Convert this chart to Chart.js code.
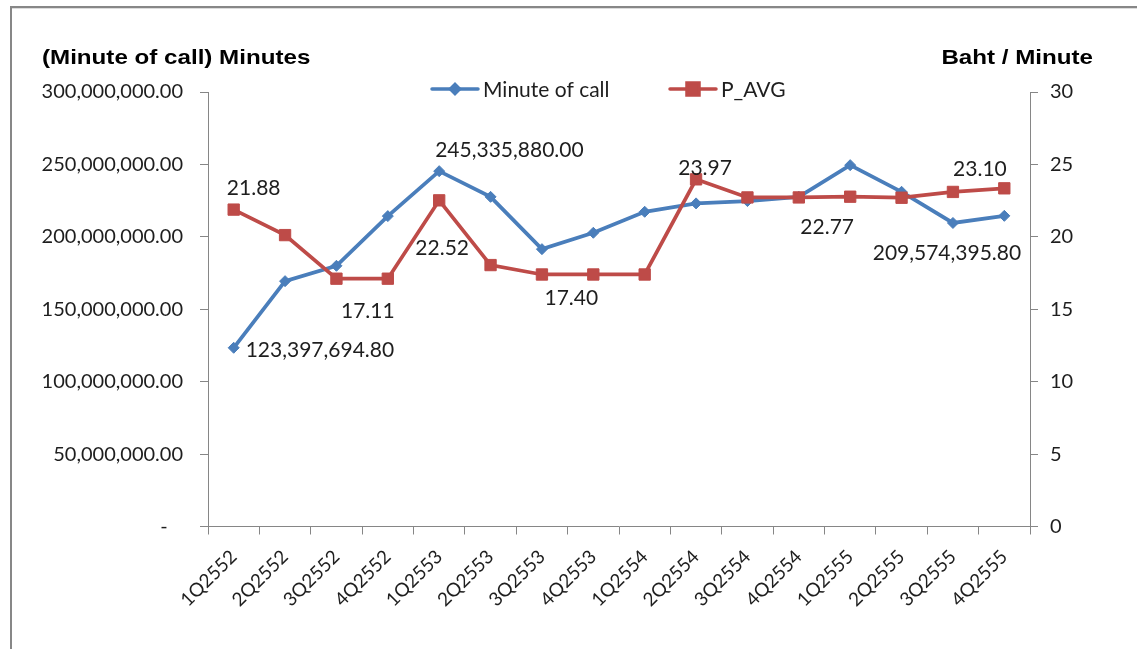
<!DOCTYPE html>
<html>
<head>
<meta charset="utf-8">
<script src="https://cdn.jsdelivr.net/npm/chart.js@4.4.1/dist/chart.umd.min.js"></script>
<style>
  html, body { margin: 0; padding: 0; background: #fff; overflow: hidden; }
  #wrap { position: relative; width: 1137px; height: 649px; }
  canvas { display: block; }
</style>
</head>
<body>
<div id="wrap"><canvas id="chart" width="1137" height="649"></canvas></div>
<script>
// Quarterly call minutes and average price per minute
const quarters = ['1Q2552', '2Q2552', '3Q2552', '4Q2552',
                  '1Q2553', '2Q2553', '3Q2553', '4Q2553',
                  '1Q2554', '2Q2554', '3Q2554', '4Q2554',
                  '1Q2555', '2Q2555', '3Q2555', '4Q2555'];

const minuteOfCall = [123397694.80, 169400000, 180000000, 214300000,
                      245335880.00, 227600000, 191500000, 202800000,
                      217300000, 223100000, 224700000, 227600000,
                      249500000, 231100000, 209574395.80, 214500000];

const pAvg = [21.88, 20.12, 17.11, 17.11,
              22.52, 18.05, 17.40, 17.40,
              17.40, 23.97, 22.72, 22.72,
              22.77, 22.70, 23.10, 23.35];

const minutesTicks = [0, 50000000, 100000000, 150000000, 200000000, 250000000, 300000000];
const bahtTicks = [0, 5, 10, 15, 20, 25, 30];

const leftTitle = '(Minute of call) Minutes';
const rightTitle = 'Baht / Minute';

// Which points carry a value label, and where the text sits relative to the point
const labelPlacement = [
  { ds: 0, i: 0,  dx: 12,   dy: 9,    align: 'left' },
  { ds: 0, i: 4,  dx: -4,   dy: -14,  align: 'left' },
  { ds: 0, i: 14, dx: -6,   dy: 37,   align: 'center' },
  { ds: 1, i: 0,  dx: 20,   dy: -15,  align: 'center' },
  { ds: 1, i: 3,  dx: -20,  dy: 39,   align: 'center' },
  { ds: 1, i: 4,  dx: 3,    dy: 55,   align: 'center' },
  { ds: 1, i: 7,  dx: -22,  dy: 31,   align: 'center' },
  { ds: 1, i: 9,  dx: 9,    dy: -4,   align: 'center' },
  { ds: 1, i: 12, dx: -23,  dy: 37,   align: 'center' },
  { ds: 1, i: 14, dx: 27,   dy: -16,  align: 'center' }
];

const BLUE = '#4A7EBB';
const RED = '#BE4B48';
const AXIS = '#868686';
const TEXT = '#1e1e1e';
const FONT = 'Lato, "Open Sans", sans-serif';

const fmtMinutes = v => v.toLocaleString('en-US', { minimumFractionDigits: 2, maximumFractionDigits: 2 });
const fmtBaht = v => v.toFixed(2);

const decor = {
  id: 'decor',
  beforeDraw(chart) {
    const ctx = chart.ctx;
    ctx.save();
    ctx.fillStyle = '#fff';
    ctx.fillRect(0, 0, chart.width, chart.height);
    // outer frame: top and left edges
    ctx.fillStyle = '#878787';
    ctx.fillRect(10, 6, chart.width - 10, 2);
    ctx.fillRect(10, 6, 2, chart.height - 6);
    ctx.fillStyle = '#dcdcdc';
    ctx.fillRect(12, 8, chart.width - 12, 1);
    ctx.restore();
  },
  afterDraw(chart) {
    const ctx = chart.ctx;
    ctx.save();
    // axis titles, horizontal above each axis
    ctx.fillStyle = '#000';
    ctx.font = 'bold 21px "Liberation Sans", Arial, sans-serif';
    ctx.textBaseline = 'alphabetic';
    ctx.save();
    ctx.translate(42, 64);
    ctx.scale(1.15, 1);
    ctx.textAlign = 'left';
    ctx.fillText(leftTitle, 0, 0);
    ctx.restore();
    ctx.save();
    ctx.translate(1093, 64);
    ctx.scale(1.15, 1);
    ctx.textAlign = 'right';
    ctx.fillText(rightTitle, 0, 0);
    ctx.restore();

    // legend: line sample with marker, then the series name
    const items = [
      { ds: 0, x: 432, marker: 4.5 },
      { ds: 1, x: 670, marker: 8.5 }
    ];
    items.forEach(it => {
      const d = chart.data.datasets[it.ds];
      const y = 89;
      ctx.strokeStyle = d.borderColor;
      ctx.lineWidth = 3.5;
      ctx.lineCap = 'round';
      ctx.beginPath();
      ctx.moveTo(it.x, y);
      ctx.lineTo(it.x + 46, y);
      ctx.stroke();
      ctx.fillStyle = d.borderColor;
      ctx.strokeStyle = d.borderColor;
      Chart.helpers.drawPoint(ctx, { pointStyle: d.pointStyle, radius: it.marker, rotation: 0, borderWidth: 1 }, it.x + 23, y);
      ctx.fillStyle = TEXT;
      ctx.font = '21px ' + FONT;
      ctx.textAlign = 'left';
      ctx.textBaseline = 'alphabetic';
      ctx.fillText(d.label, it.x + 51, 97);
    });
    ctx.restore();
  },
  afterDatasetsDraw(chart) {
    const ctx = chart.ctx;
    ctx.save();
    ctx.fillStyle = TEXT;
    ctx.font = '21px ' + FONT;
    ctx.textBaseline = 'alphabetic';
    labelPlacement.forEach(p => {
      const pt = chart.getDatasetMeta(p.ds).data[p.i];
      const v = chart.data.datasets[p.ds].data[p.i];
      const txt = p.ds === 0 ? fmtMinutes(v) : fmtBaht(v);
      ctx.textAlign = p.align;
      ctx.fillText(txt, pt.x + p.dx, pt.y + p.dy);
    });
    ctx.restore();
  }
};

new Chart(document.getElementById('chart'), {
  type: 'line',
  data: {
    labels: quarters,
    datasets: [
      {
        label: 'Minute of call',
        data: minuteOfCall,
        yAxisID: 'yMin',
        borderColor: BLUE,
        backgroundColor: BLUE,
        borderWidth: 3.75,
        pointStyle: 'rectRot',
        pointRadius: 5.5,
        pointBorderWidth: 1,
        tension: 0,
        order: 2
      },
      {
        label: 'P_AVG',
        data: pAvg,
        yAxisID: 'yBaht',
        borderColor: RED,
        backgroundColor: RED,
        borderWidth: 3.75,
        pointStyle: 'rect',
        pointRadius: 8,
        pointBorderWidth: 1,
        tension: 0,
        order: 1
      }
    ]
  },
  options: {
    responsive: false,
    animation: false,
    devicePixelRatio: 1,
    layout: { padding: { top: 92, left: 0, right: 0, bottom: 0 } },
    plugins: {
      legend: { display: false },
      tooltip: { enabled: false }
    },
    scales: {
      x: {
        offset: true,
        grid: { offset: true, drawOnChartArea: false, drawTicks: true, tickLength: 8, color: AXIS },
        border: { color: AXIS, width: 1 },
        ticks: {
          minRotation: 45, maxRotation: 45, autoSkip: false, padding: 11,
          color: TEXT, font: { family: FONT, size: 19 }
        },
        afterFit(s) { s.height = 122.5; }
      },
      yMin: {
        position: 'left',
        min: 0, max: 300000000,
        afterBuildTicks(s) { s.ticks = minutesTicks.map(v => ({ value: v })); },
        grid: { drawOnChartArea: false, drawTicks: true, tickLength: 8, color: AXIS },
        border: { color: AXIS, width: 1 },
        ticks: {
          padding: 17, color: TEXT, font: { family: FONT, size: 20 },
          callback: v => v === 0 ? '-   ' : fmtMinutes(v)
        },
        afterFit(s) { s.width = 208; }
      },
      yBaht: {
        position: 'right',
        min: 0, max: 30,
        afterBuildTicks(s) { s.ticks = bahtTicks.map(v => ({ value: v })); },
        grid: { drawOnChartArea: false, drawTicks: true, tickLength: 8, color: AXIS },
        border: { color: AXIS, width: 1 },
        ticks: {
          padding: 12, color: TEXT, font: { family: FONT, size: 20 },
          callback: v => String(v)
        },
        afterFit(s) { s.width = 107; }
      }
    }
  },
  plugins: [decor]
});
</script>
</body>
</html>
